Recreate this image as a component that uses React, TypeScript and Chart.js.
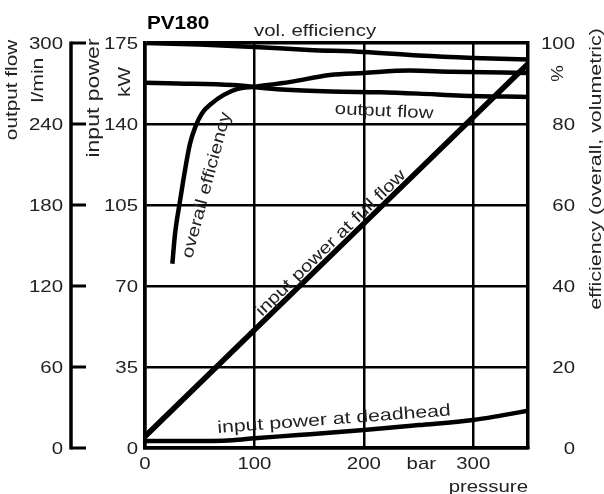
import React, { useEffect, useRef } from "react";
import { Chart, registerables } from "chart.js";

Chart.register(...registerables);

// ---- tick values ----
const pressureTicks = [0, 100, 200, 300];
const kwTicks = [0, 35, 70, 105, 140, 175];
const flowTicks = [0, 60, 120, 180, 240, 300];
const effTicks = [0, 20, 40, 60, 80, 100];

// ---- series ----
const volEffBar = [0, 50, 100, 150, 200, 250, 300, 350];
const volEffPct = [100, 99.6, 99.0, 98.3, 97.8, 96.9, 96.3, 95.9];

const overallEffBar = [25, 27.5, 32, 36.5, 41, 46, 52, 61, 72, 84, 100, 133, 169, 200, 242, 280, 350];
const overallEffPct = [45.5, 53, 61, 68.5, 75, 79.3, 82.6, 85.1, 87.2, 88.6, 89.2, 90.4, 92.1, 92.6, 93.2, 92.9, 92.6];

const outputFlowBar = [0, 30, 80, 125, 170, 215, 250, 290, 350];
const outputFlowLpm = [270.5, 270, 268.8, 265.5, 264, 263.5, 262.5, 261, 260];

const fullFlowBar = [0, 350];
const fullFlowKw = [5, 166];

const deadheadBar = [0, 40, 80, 100, 140, 200, 250, 300, 325, 350];
const deadheadKw = [3.0, 3.0, 3.4, 4.2, 5.6, 7.8, 9.9, 12.1, 14.0, 16.1];

const FONT = '"Liberation Sans", Arial, Helvetica, sans-serif';
const TXT = "#222";

function pts(xs: number[], ys: number[]) {
  return xs.map((x, i) => ({ x, y: ys[i] }));
}

function drawText(
  ctx: CanvasRenderingContext2D,
  text: string,
  x: number,
  y: number,
  o: { size?: number; sx?: number; rot?: number; align?: CanvasTextAlign; baseline?: CanvasTextBaseline; bold?: boolean; color?: string } = {}
) {
  const { size = 17, sx = 1.2, rot = 0, align = "center", baseline = "middle", bold = false, color = TXT } = o;
  ctx.save();
  ctx.translate(x, y);
  if (rot) ctx.rotate((rot * Math.PI) / 180);
  ctx.scale(sx, 1);
  ctx.font = `${bold ? "bold " : ""}${size}px ${FONT}`;
  ctx.fillStyle = color;
  ctx.textAlign = align;
  ctx.textBaseline = baseline;
  ctx.fillText(text, 0, 0);
  ctx.restore();
}

const decorPlugin = {
  id: "decor",
  afterDraw(chart: any) {
    const ctx: CanvasRenderingContext2D = chart.ctx;
    const xs = chart.scales.x;
    const kw = chart.scales.kw;
    const fl = chart.scales.flow;
    const ef = chart.scales.eff;
    const area = chart.chartArea;

    // outer flow axis: line + ticks toward the chart
    const axisX = fl.right - 14;
    ctx.save();
    ctx.strokeStyle = "#000";
    ctx.lineWidth = 3.5;
    ctx.beginPath();
    ctx.moveTo(axisX, fl.getPixelForValue(0) + 1.5);
    ctx.lineTo(axisX, fl.getPixelForValue(300) - 1.5);
    ctx.stroke();
    ctx.lineWidth = 3;
    flowTicks.forEach((v) => {
      const y = fl.getPixelForValue(v);
      ctx.beginPath();
      ctx.moveTo(axisX, y);
      ctx.lineTo(axisX + 15, y);
      ctx.stroke();
    });
    ctx.restore();

    flowTicks.forEach((v) => {
      drawText(ctx, String(v), axisX - 8, fl.getPixelForValue(v) + 6.3, { align: "right", baseline: "alphabetic" });
    });
    kwTicks.forEach((v) => {
      drawText(ctx, String(v), kw.right - 7, kw.getPixelForValue(v) + 6.3, { align: "right", baseline: "alphabetic" });
    });
    effTicks.forEach((v) => {
      drawText(ctx, String(v), ef.left + 47, ef.getPixelForValue(v) + 6.3, { align: "right", baseline: "alphabetic" });
    });
    pressureTicks.forEach((v) => {
      drawText(ctx, String(v), xs.getPixelForValue(v), xs.top + 20.5, { baseline: "alphabetic" });
    });
    drawText(ctx, "bar", xs.getPixelForValue(252.5), xs.top + 20.5, { baseline: "alphabetic" });
    drawText(ctx, "pressure", xs.right, xs.top + 43.5, { align: "right", baseline: "alphabetic" });

    // axis titles
    drawText(ctx, "output flow", 12.5, area.top + 47, { rot: -90, sx: 1.22 });
    drawText(ctx, "l/min", 38, area.top + 37, { rot: -90, sx: 1.25 });
    drawText(ctx, "input power", 94, area.top + 55, { rot: -90, size: 18, sx: 1.28 });
    drawText(ctx, "kW", 125, area.top + 39, { rot: -90, sx: 1.22 });
    drawText(ctx, "%", ef.left + 30.5, area.top + 30.5, { rot: -90, sx: 1.1 });
    drawText(ctx, "efficiency (overall, volumetric)", ef.left + 68, area.top + 126, { rot: -90, sx: 1.26 });

    // title
    drawText(ctx, "PV180", area.left + 2, 28.5, { bold: true, size: 18, sx: 1.15, align: "left", baseline: "alphabetic", color: "#000" });

    // curve labels
    const px = (b: number) => xs.getPixelForValue(b);
    drawText(ctx, "vol. efficiency", px(155.4), kw.getPixelForValue(180.2), {});
    drawText(ctx, "output flow", px(218.5), kw.getPixelForValue(145.4), { rot: 2.7 });
    drawText(ctx, "overall efficiency", px(56.5), kw.getPixelForValue(113.6), { rot: -75 });
    const a = (Math.atan2(
      kw.getPixelForValue(fullFlowKw[1]) - kw.getPixelForValue(fullFlowKw[0]),
      px(fullFlowBar[1]) - px(fullFlowBar[0])
    ) * 180) / Math.PI;
    drawText(ctx, "input power at full flow", px(170), kw.getPixelForValue(88.5), { rot: a });
    drawText(ctx, "input power at deadhead", px(172.8), kw.getPixelForValue(12.3), { rot: -4.3, sx: 1.25 });
  },
};

export default function App() {
  const ref = useRef<HTMLCanvasElement | null>(null);

  useEffect(() => {
    if (!ref.current) return;
    const line = (data: any[], yAxisID: string, w = 4.5) => ({
      data,
      yAxisID,
      xAxisID: "x",
      borderColor: "#000",
      backgroundColor: "#000",
      borderWidth: w,
      pointRadius: 0,
      fill: false,
      cubicInterpolationMode: "monotone" as const,
      borderCapStyle: "butt" as const,
    });
    const setTicks = (vals: number[]) => (scale: any) => {
      scale.ticks = vals.map((v) => ({ value: v }));
    };
    const chart = new Chart(ref.current, {
      type: "line",
      data: {
        datasets: [
          line(pts(volEffBar, volEffPct), "eff"),
          line(pts(overallEffBar, overallEffPct), "eff"),
          line(pts(outputFlowBar, outputFlowLpm), "flow"),
          line(pts(fullFlowBar, fullFlowKw), "kw", 5.5),
          line(pts(deadheadBar, deadheadKw), "kw"),
        ],
      },
      options: {
        responsive: false,
        animation: false,
        events: [],
        layout: { padding: { top: 43, left: 0, right: 0, bottom: 0 } },
        plugins: { legend: { display: false }, tooltip: { enabled: false }, title: { display: false } },
        scales: {
          x: {
            type: "linear",
            position: "bottom",
            min: 0,
            max: 350,
            afterBuildTicks: setTicks(pressureTicks),
            afterFit: (s: any) => { s.height = 46; },
            ticks: { display: false },
            grid: { color: "#000", lineWidth: 2.5, drawTicks: false },
            border: { display: true, color: "#000", width: 3.5 },
          },
          kw: {
            type: "linear",
            position: "left",
            weight: 0,
            min: 0,
            max: 175,
            afterBuildTicks: setTicks(kwTicks),
            afterFit: (s: any) => { s.width = 60; },
            ticks: { display: false },
            grid: {
              color: "#000",
              lineWidth: (c: any) => (c.tick && c.tick.value === 175 ? 3.5 : 2.5),
              drawTicks: false,
            },
            border: { display: true, color: "#000", width: 3.5 },
          },
          flow: {
            type: "linear",
            position: "left",
            weight: 1,
            min: 0,
            max: 300,
            afterBuildTicks: setTicks(flowTicks),
            afterFit: (s: any) => { s.width = 85; },
            ticks: { display: false },
            grid: { display: false },
            border: { display: false },
          },
          eff: {
            type: "linear",
            position: "right",
            min: 0,
            max: 100,
            afterBuildTicks: setTicks(effTicks),
            afterFit: (s: any) => { s.width = 76; },
            ticks: { display: false },
            grid: { display: true, drawOnChartArea: false, drawTicks: false, color: "#000" },
            border: { display: true, color: "#000", width: 3.5 },
          },
        },
      } as any,
      plugins: [decorPlugin],
    });
    return () => chart.destroy();
  }, []);

  return (
    <div style={{ position: "absolute", left: 0, top: 0, width: 604, height: 494, background: "#fff" }}>
      <canvas ref={ref} width={604} height={494} />
    </div>
  );
}
